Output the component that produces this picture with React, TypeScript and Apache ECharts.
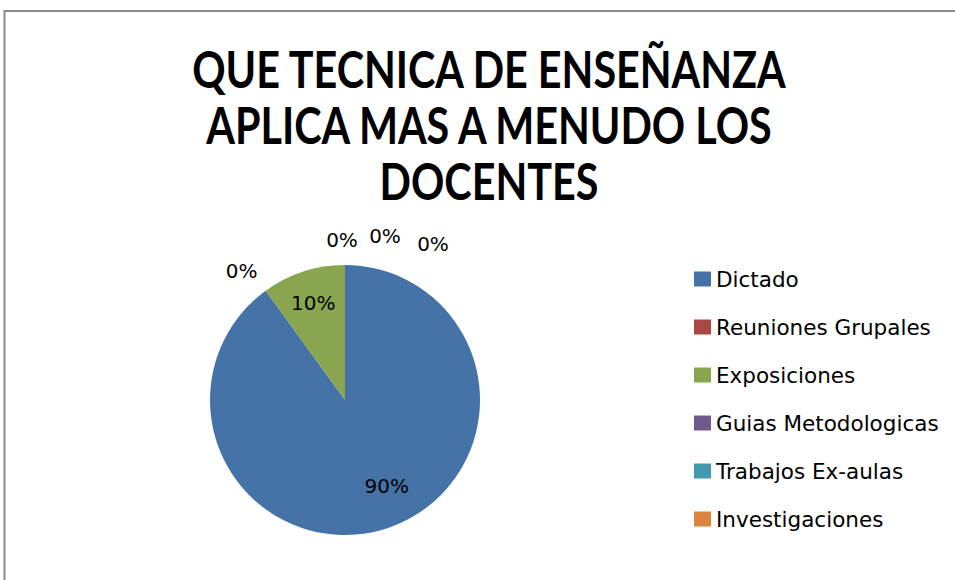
import React, { useEffect, useRef } from "react";
import * as echarts from "echarts";

const TITLE_LINES = ["QUE TECNICA DE ENSEÑANZA", "APLICA MAS A MENUDO LOS", "DOCENTES"];
const CATEGORIES = [
  "Dictado",
  "Reuniones Grupales",
  "Exposiciones",
  "Guias Metodologicas",
  "Trabajos Ex-aulas",
  "Investigaciones",
];
const VALUES = [90, 0, 10, 0, 0, 0];
const COLORS = ["#4572A7", "#AA4643", "#89A54E", "#71588F", "#4198AF", "#DB843D"];
// label nudges (px) from the default inside position, to mimic the original layout
const LABEL_SHIFT: [number, number][] = [
  [20, 19],
  [-62, -72],
  [-10, -30],
  [-3, -90],
  [40, -94],
  [88, -86],
];

export default function App() {
  const ref = useRef<HTMLDivElement>(null);
  useEffect(() => {
    if (!ref.current) return;
    const chart = echarts.init(ref.current, undefined, { renderer: "svg" });
    chart.setOption({
      animation: false,
      backgroundColor: "#ffffff",
      color: COLORS,
      legend: {
        orient: "vertical",
        left: 694,
        top: 268,
        padding: 0,
        itemGap: 26,
        itemWidth: 17,
        itemHeight: 15,
        icon: "rect",
        data: CATEGORIES,
        textStyle: {
          fontFamily: "'DejaVu Sans', sans-serif",
          fontSize: 21.5,
          lineHeight: 22,
          color: "#000000",
        },
      },
      graphic: [
        {
          type: "rect",
          silent: true,
          shape: { x: 4.5, y: 11, width: 1200, height: 1200 },
          style: { fill: "none", stroke: "#8a8a8a", lineWidth: 2 },
        },
        {
          type: "text",
          silent: true,
          x: 489,
          y: 40,
          scaleX: 0.81,
          style: {
            text: TITLE_LINES.join("\n"),
            fontFamily: "Lato, sans-serif",
            fontWeight: "bold",
            fontSize: 51,
            lineHeight: 56,
            fill: "#000000",
            textAlign: "center",
            textVerticalAlign: "top",
          },
        },
      ],
      series: [
        {
          type: "pie",
          center: [345, 400],
          radius: 135,
          startAngle: 90,
          clockwise: true,
          avoidLabelOverlap: false,
          itemStyle: { borderWidth: 0 },
          label: {
            show: true,
            position: "inside",
            formatter: "{d}%",
            fontFamily: "'DejaVu Sans', sans-serif",
            fontSize: 20,
            color: "#000000",
          },
          labelLine: { show: false },
          labelLayout: (p: any) => {
            const s = LABEL_SHIFT[p.dataIndex] || [0, 0];
            return { dx: s[0], dy: s[1] };
          },
          emphasis: { disabled: true },
          data: CATEGORIES.map((name, i) => ({ name, value: VALUES[i] })),
        },
      ],
    });
    return () => chart.dispose();
  }, []);
  return (
    <div
      ref={ref}
      style={{ position: "absolute", left: 0, top: 0, width: 955, height: 580 }}
    />
  );
}
